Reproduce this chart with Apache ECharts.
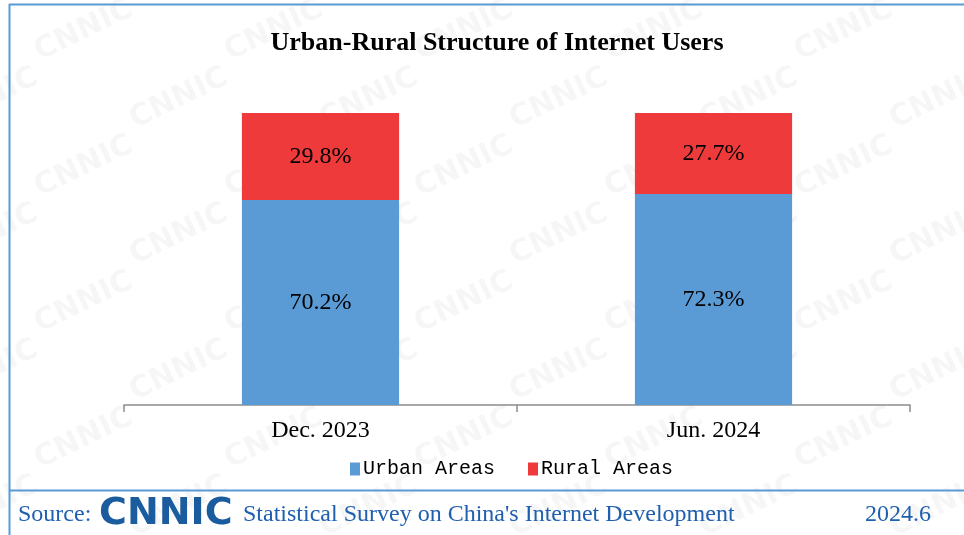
<!DOCTYPE html>
<html>
<head>
<meta charset="utf-8">
<script src="https://cdn.jsdelivr.net/npm/echarts@6/dist/echarts.min.js"></script>
<style>
  html, body { margin: 0; padding: 0; background: #fff; }
  #chart { width: 964px; height: 535px; }
</style>
</head>
<body>
<div id="chart"></div>
<script>
// Survey periods and the urban / rural shares of internet users (%)
const periods = ['Dec. 2023', 'Jun. 2024'];
const urbanShare = [70.2, 72.3];
const ruralShare = [29.8, 27.7];
const seriesNames = ['Urban Areas', 'Rural Areas'];

const serif = '"Liberation Serif", "Times New Roman", serif';
const frameBlue = '#5b9bd5';
const textBlue = '#1f5fb0';

// Faint repeated "CNNIC" watermark behind the chart
const watermark = [];
for (let row = -1; row < 9; row++) {
  for (let col = -1; col < 6; col++) {
    watermark.push({
      type: 'text',
      x: col * 190 + (row % 2) * 95 + 30,
      y: row * 68 + 40,
      rotation: Math.PI / 7,
      z: -10,
      silent: true,
      style: {
        text: 'CNNIC',
        font: 'bold 30px "DejaVu Sans", sans-serif',
        fill: 'rgba(0,0,0,0.035)'
      }
    });
  }
}

const chart = echarts.init(document.getElementById('chart'));
chart.setOption({
  backgroundColor: '#fff',
  animation: false,
  title: {
    text: 'Urban-Rural Structure of Internet Users',
    left: 492,
    textAlign: 'center',
    top: 25,
    textStyle: { fontFamily: serif, fontWeight: 'bold', fontSize: 26, color: '#000' }
  },
  legend: {
    data: seriesNames,
    top: 454,
    left: 345,
    itemWidth: 10,
    itemHeight: 13,
    itemGap: 33,
    icon: 'rect',
    textStyle: { fontFamily: '"Liberation Mono", monospace', fontSize: 20, color: '#000', padding: [0, 0, 0, -2] }
  },
  grid: { left: 124, right: 54, top: 113, bottom: 130 },
  xAxis: {
    type: 'category',
    data: periods,
    axisLine: { lineStyle: { color: '#8c8c8c', width: 1.5 } },
    axisTick: { show: true, length: 7, lineStyle: { color: '#8c8c8c', width: 1.5 } },
    axisLabel: { fontFamily: serif, fontSize: 24, color: '#000', margin: 14 }
  },
  yAxis: {
    type: 'value',
    min: 0,
    max: 100,
    show: false,
    splitLine: { show: false }
  },
  series: [
    {
      name: seriesNames[0],
      type: 'bar',
      stack: 'share',
      barWidth: '40%',
      data: urbanShare,
      itemStyle: { color: '#5b9bd5' },
      label: {
        show: true,
        position: 'inside',
        formatter: p => p.value.toFixed(1) + '%',
        fontFamily: serif, fontSize: 24, color: '#000'
      }
    },
    {
      name: seriesNames[1],
      type: 'bar',
      stack: 'share',
      barWidth: '40%',
      data: ruralShare,
      itemStyle: { color: '#ee3a3b' },
      label: {
        show: true,
        position: 'inside',
        formatter: p => p.value.toFixed(1) + '%',
        fontFamily: serif, fontSize: 24, color: '#000'
      }
    }
  ],
  graphic: watermark.concat([
    // frame lines
    { type: 'line', shape: { x1: 9.5, y1: 4, x2: 9.5, y2: 535 }, style: { stroke: frameBlue, lineWidth: 2 } },
    { type: 'line', shape: { x1: 9, y1: 4.5, x2: 964, y2: 4.5 }, style: { stroke: frameBlue, lineWidth: 2 } },
    { type: 'line', shape: { x1: 9, y1: 490.5, x2: 964, y2: 490.5 }, style: { stroke: frameBlue, lineWidth: 2 } },
    // footer
    { type: 'text', left: 18, top: 503, style: { text: 'Source:', font: '24px ' + serif, fill: textBlue } },
    { type: 'text', left: 99, top: 495, style: { text: 'CNNIC', font: 'bold 38px "DejaVu Sans", sans-serif', fill: '#1b5c9e' } },
    { type: 'text', left: 243, top: 503, style: { text: "Statistical Survey on China's Internet Development", font: '24px ' + serif, fill: textBlue } },
    { type: 'text', left: 865, top: 503, style: { text: '2024.6', font: '24px ' + serif, fill: textBlue } }
  ])
});
</script>
</body>
</html>
